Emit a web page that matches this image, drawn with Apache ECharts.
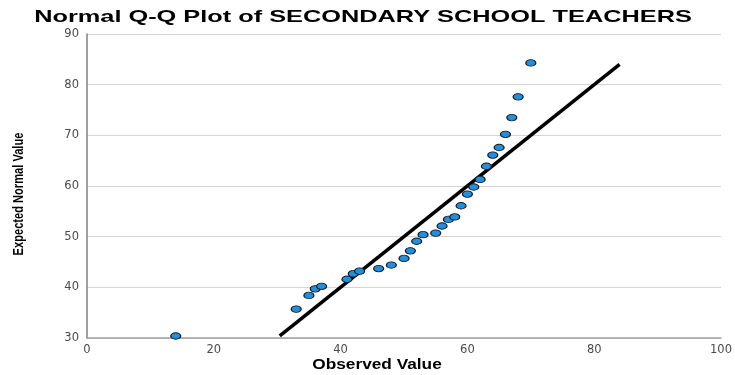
<!DOCTYPE html>
<html>
<head>
<meta charset="utf-8">
<script src="https://cdn.jsdelivr.net/npm/echarts@6/dist/echarts.min.js"></script>
<style>html,body{margin:0;padding:0;background:#fff}#c{width:735px;height:375px}</style>
</head>
<body>
<div id="c"></div>
<script>
var titleText = 'Normal Q-Q Plot of SECONDARY SCHOOL TEACHERS';
var xName = 'Observed Value';
var yName = 'Expected Normal Value';
var observed = [14, 33, 35, 36, 37, 41, 42, 43, 46, 48, 50, 51, 52, 53, 55, 56, 57, 58, 59, 60, 61, 62, 63, 64, 65, 66, 67, 68, 70];
var expected = [30.4, 35.7, 38.4, 39.7, 40.2, 41.6, 42.7, 43.2, 43.7, 44.4, 45.7, 47.2, 49.1, 50.4, 50.7, 52.1, 53.4, 53.9, 56.1, 58.4, 59.8, 61.3, 63.9, 66.1, 67.6, 70.2, 73.5, 77.6, 84.3];
var refLineX = [30.4, 84.0];
var refLineY = [30.4, 84.0];
var xTicks = [0, 20, 40, 60, 80, 100];
var yTicks = [30, 40, 50, 60, 70, 80, 90];

var chart = echarts.init(document.getElementById('c'), null, {renderer: 'canvas'});
var pts = observed.map(function (v, i) { return [v, expected[i]]; });
var line = refLineX.map(function (v, i) { return [v, refLineY[i]]; });

chart.setOption({
  animation: false,
  grid: {left: 87, right: 10, top: 34, bottom: 37, containLabel: false},
  graphic: [{
    type: 'text',
    x: 363, y: 17,
    scaleX: 1.49,
    style: {text: titleText, x: 0, y: 0, align: 'center', verticalAlign: 'middle',
      font: 'bold 17px "Liberation Sans", Arial, sans-serif', fill: '#000'}
  }, {
    type: 'text',
    x: 377, y: 365,
    scaleX: 1.15,
    style: {text: xName, x: 0, y: 0, align: 'center', verticalAlign: 'middle',
      font: 'bold 15px "Liberation Sans", Arial, sans-serif', fill: '#000'}
  }, {
    type: 'text',
    x: 19, y: 194,
    rotation: Math.PI / 2,
    scaleX: 0.74,
    style: {text: yName, x: 0, y: 0, align: 'center', verticalAlign: 'middle',
      font: 'bold 15px "Liberation Sans", Arial, sans-serif', fill: '#000'}
  }],
  xAxis: {
    type: 'value', min: xTicks[0], max: xTicks[xTicks.length - 1], interval: 20,
    axisLine: {show: true, lineStyle: {color: '#a0a0a0', width: 1.5}},
    axisTick: {show: false},
    splitLine: {show: false},
    axisLabel: {fontFamily: 'DejaVu Sans', fontSize: 11.5, color: '#4a4a4a', margin: 6}
  },
  yAxis: {
    type: 'value', min: yTicks[0], max: yTicks[yTicks.length - 1], interval: 10,
    axisLine: {show: true, lineStyle: {color: '#808080', width: 1.5}},
    axisTick: {show: false},
    splitLine: {show: true, lineStyle: {color: '#d4d4d4', width: 1}},
    axisLabel: {fontFamily: 'DejaVu Sans', fontSize: 11.5, color: '#4a4a4a', margin: 8}
  },
  series: [{
    type: 'line',
    data: line,
    symbol: 'none',
    lineStyle: {color: '#000', width: 3.5},
    z: 2
  }, {
    type: 'scatter',
    data: pts,
    symbol: 'circle',
    symbolSize: [10, 6.5],
    itemStyle: {color: '#1f8fe0', borderColor: '#1a1a1a', borderWidth: 1, opacity: 1},
    z: 3
  }]
});
</script>
</body>
</html>
